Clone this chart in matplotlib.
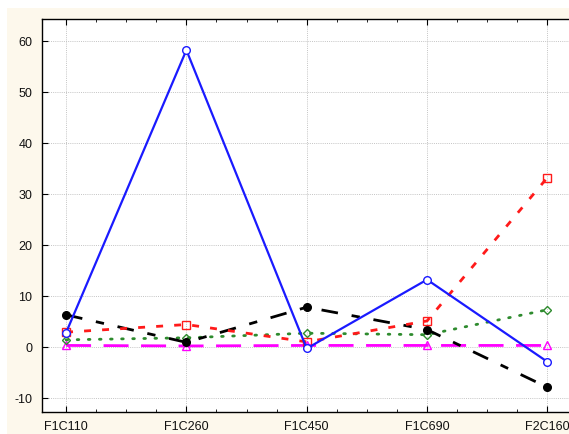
import matplotlib
matplotlib.use("Agg")
import matplotlib.pyplot as plt
from matplotlib.patches import Rectangle
from matplotlib.ticker import MultipleLocator

plt.rcParams["axes.unicode_minus"] = False

categories = ["F1C110", "F1C260", "F1C450", "F1C690", "F2C160"]
blue_vals = [2.8, 58.2, -0.3, 13.2, -2.9]
red_vals = [2.9, 4.4, 1.0, 5.1, 33.2]
green_vals = [1.4, 1.8, 2.7, 2.4, 7.3]
black_vals = [6.3, 0.9, 7.8, 3.4, -7.9]
magenta_vals = [0.3, 0.2, 0.3, 0.3, 0.3]
yticks = [-10, 0, 10, 20, 30, 40, 50, 60]

W, H = 569, 435
fig = plt.figure(figsize=(W / 100, H / 100), dpi=100, facecolor="white")
bg = Rectangle((7 / W, 0), 1 - 7 / W, 1 - 9 / H, transform=fig.transFigure,
               facecolor="#fdf8ec", edgecolor="none", zorder=-10)
fig.add_artist(bg)

ax = fig.add_axes([42 / W, (H - 413) / H, (W - 42) / W, (413 - 20) / H])
ax.set_zorder(1)
ax.set_facecolor("white")
x = list(range(len(categories)))

ax.plot(x, magenta_vals, color="#ff00ff", lw=2.0, dashes=(9, 4.5), marker="^", ms=6,
        mfc="none", mec="#ff00ff", mew=1.0, zorder=3)
ax.plot(x, green_vals, color="#2e8b2e", lw=2.0, dashes=(0.6, 3.4), marker="D", ms=4.5,
        mfc="none", mec="#2e8b2e", mew=1.0, zorder=4, dash_capstyle="round")
ax.plot(x, black_vals, color="black", lw=2.0, dashes=(6, 5, 3, 5), marker="o", ms=5.5,
        mfc="black", mec="black", zorder=5)
ax.plot(x, red_vals, color="#ff1a1a", lw=2.0, dashes=(2.5, 4), marker="s", ms=6,
        mfc="none", mec="#ff1a1a", mew=1.0, zorder=6)
ax.plot(x, blue_vals, color="#1a1aff", lw=1.6, ls="-", marker="o", ms=5.5,
        mfc="white", mec="#1a1aff", mew=1.0, zorder=7)

ax.set_xlim(-0.2, 4.18)
ax.set_ylim(-12.75, 64.3)
ax.set_xticks(x)
ax.set_xticklabels(categories)
ax.xaxis.set_minor_locator(MultipleLocator(0.25))
ax.set_yticks(yticks)
ax.grid(True, which="major", color="#c4c4c4", ls=(0, (1, 1.2)), lw=0.7)
ax.set_axisbelow(True)
ax.spines["right"].set_visible(False)
for s in ["left", "bottom", "top"]:
    ax.spines[s].set_linewidth(1.0)
ax.tick_params(axis="both", which="both", direction="in", top=True, labelsize=9,
               labelcolor="#111111")
ax.tick_params(axis="x", which="major", length=4, pad=6)
ax.tick_params(axis="x", which="minor", length=2.5)
ax.tick_params(axis="y", length=4, pad=7)
for lab in ax.get_xticklabels() + ax.get_yticklabels():
    lab.set_fontfamily("Liberation Sans")

fig.savefig("out.png", dpi=100, facecolor=fig.get_facecolor())
